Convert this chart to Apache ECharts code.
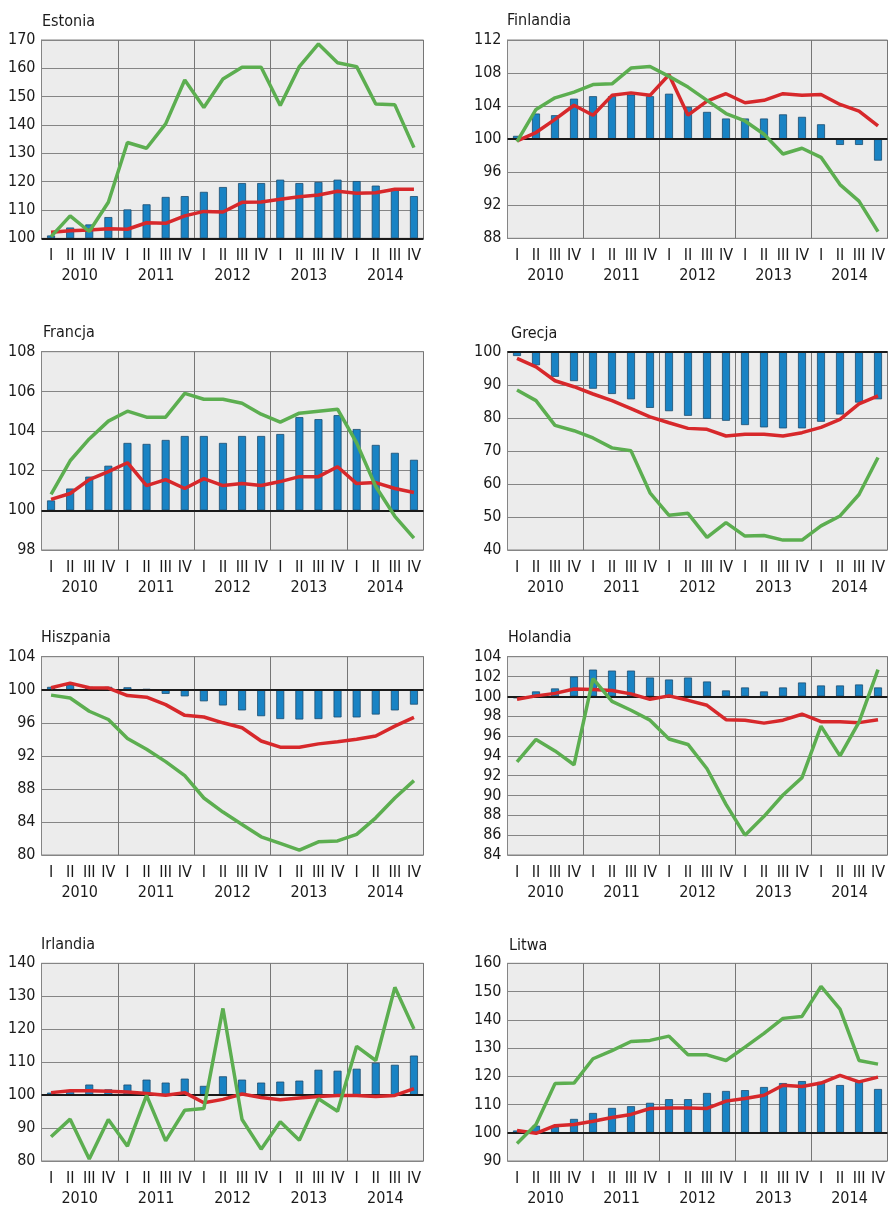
<!DOCTYPE html>
<html><head><meta charset="utf-8">
<script src="https://cdn.jsdelivr.net/npm/echarts@6/dist/echarts.min.js"></script>
<style>html,body{margin:0;padding:0;background:#fff}#c{width:888px;height:1207px}</style>
</head><body><div id="c"></div>
<script>
const quarters = ['I','II','III','IV','I','II','III','IV','I','II','III','IV','I','II','III','IV','I','II','III','IV'];
const years = ['2010','2011','2012','2013','2014'];
const countries = ['Estonia','Finlandia','Francja','Grecja','Hiszpania','Holandia','Irlandia','Litwa'];
const yMin = [100, 88, 98, 40, 80, 84, 80, 90];
const yMax = [170, 112, 108, 100, 104, 104, 140, 160];
const yStep = [10, 4, 2, 10, 4, 2, 10, 10];

const estoniaBars = [101,103.8,104.9,107.5,110.2,112,114.6,114.9,116.4,118.1,119.5,119.5,120.7,119.5,119.9,120.7,120.2,118.6,117.5,114.9];
const estoniaRed = [102.1,102.7,102.9,103.4,103.2,105.5,105.3,107.9,109.5,109.3,112.7,112.8,113.8,114.7,115.3,116.6,115.9,116.1,117.3,117.3];
const estoniaGreen = [100.6,107.9,102.4,112.7,133.8,131.8,140.4,155.9,146.2,156.2,160.4,160.4,146.9,160.6,168.6,162,160.6,147.4,147.1,132];

const finlandiaBars = [100.4,103.1,102.9,104.9,105.2,105.2,105.4,105.2,105.5,103.9,103.3,102.5,102.5,102.5,103,102.7,101.8,99.3,99.3,97.4];
const finlandiaRed = [99.8,100.8,102.4,104.1,102.9,105.3,105.6,105.3,107.8,102.9,104.6,105.5,104.4,104.7,105.5,105.3,105.4,104.2,103.4,101.6];
const finlandiaGreen = [99.7,103.6,105,105.7,106.6,106.7,108.6,108.8,107.6,106.3,104.7,103.1,102.2,100.6,98.2,98.9,97.8,94.5,92.5,88.8];

const francjaBars = [100.5,101.1,101.7,102.25,103.4,103.35,103.55,103.75,103.75,103.4,103.75,103.75,103.85,104.7,104.6,104.8,104.1,103.3,102.9,102.55];
const francjaRed = [100.55,100.85,101.55,101.95,102.4,101.25,101.55,101.1,101.6,101.25,101.35,101.25,101.45,101.7,101.7,102.2,101.35,101.4,101.1,100.9];
const francjaGreen = [100.8,102.5,103.6,104.5,105,104.7,104.7,105.9,105.6,105.6,105.4,104.85,104.45,104.9,105,105.1,103.4,101.2,99.7,98.6];

const grecjaBars = [98.7,95.9,92.4,91.1,88.8,87.2,85.6,83,82,80.6,79.7,79.1,77.8,77.1,76.8,76.8,78.8,81,84.6,85.6];
const grecjaRed = [98,95.4,91.2,89.4,87.2,85.2,82.8,80.3,78.5,76.8,76.5,74.5,75,75,74.5,75.5,77.1,79.5,84.2,86.6];
const grecjaGreen = [88.4,85.2,77.7,76.1,73.9,70.9,70,57.3,50.5,51.1,43.8,48.3,44.2,44.4,43,43,47.3,50.3,56.8,68];

const hiszpaniaBars = [100.35,100.6,100.35,100.35,100.3,100.1,99.5,99.2,98.6,98.1,97.5,96.8,96.45,96.4,96.45,96.65,96.65,97,97.5,98.2];
const hiszpaniaRed = [100.25,100.8,100.25,100.2,99.3,99.1,98.2,96.9,96.7,96,95.4,93.8,93.05,93.05,93.45,93.7,94,94.4,95.6,96.65];
const hiszpaniaGreen = [99.35,99,97.4,96.4,94.1,92.8,91.3,89.6,86.9,85.2,83.7,82.2,81.4,80.6,81.6,81.7,82.5,84.5,86.9,89];

const holandiaBars = [99.8,100.5,100.8,102,102.7,102.6,102.6,101.9,101.7,101.9,101.5,100.6,100.9,100.5,100.9,101.4,101.1,101.1,101.2,100.9];
const holandiaRed = [99.7,100.05,100.3,100.75,100.7,100.6,100.25,99.7,100.05,99.6,99.1,97.65,97.6,97.3,97.6,98.2,97.45,97.45,97.35,97.65];
const holandiaGreen = [93.4,95.65,94.5,93.1,101.8,99.5,98.6,97.6,95.7,95.15,92.7,89.1,86,87.9,90.05,91.8,97,94,97.4,102.7];

const irlandiaBars = [100.75,101.2,103.2,101.75,103.2,104.7,103.8,105,102.8,105.7,104.7,103.8,104.1,104.4,107.7,107.4,108,109.8,109.2,112];
const irlandiaRed = [100.75,101.35,101.35,101.15,100.95,100.45,99.95,100.75,97.7,98.7,100.35,99.25,98.6,99.1,99.6,99.9,99.9,99.6,99.9,101.95];
const irlandiaGreen = [87.35,92.7,80.6,92.6,84.5,99.9,86.1,95.4,95.9,126.3,92.6,83.6,91.9,86.3,98.9,95.1,114.8,110.5,132.7,120.1];

const litwaBars = [100.8,102.5,102.1,104.9,107,108.8,109.4,110.6,111.9,111.9,114.1,114.8,115.1,116.2,117.6,118.3,118,116.9,118,115.5];
const litwaRed = [100.8,99.8,102.5,102.9,104.1,105.4,106.5,108.6,108.8,108.8,108.6,111.2,112.1,113.3,116.8,116.4,117.6,120.3,118,119.7];
const litwaGreen = [96.2,102.9,117.4,117.6,126.2,129.1,132.3,132.7,134.2,127.6,127.6,125.6,130.3,135.2,140.5,141.2,151.8,143.8,125.6,124.3];

const baseline = 100;

const barsAll = [estoniaBars, finlandiaBars, francjaBars, grecjaBars, hiszpaniaBars, holandiaBars, irlandiaBars, litwaBars];
const redAll = [estoniaRed, finlandiaRed, francjaRed, grecjaRed, hiszpaniaRed, holandiaRed, irlandiaRed, litwaRed];
const greenAll = [estoniaGreen, finlandiaGreen, francjaGreen, grecjaGreen, hiszpaniaGreen, holandiaGreen, irlandiaGreen, litwaGreen];

// layout
const FONT = "'Liberation Sans Narrow','DejaVu Sans Condensed','Arial Narrow',sans-serif";
const colLeft = [41.5, 507.5];
const rowTop = [40, 351.7, 656.7, 963.3];
const rowH = [198.3, 198.3, 198.3, 199.4];
const plotW = 382;
const titlePos = [[42,14],[507,13],[43,325],[511,326],[41,630],[508,630],[41,937],[509,938]];

const option = {
  animation: false,
  backgroundColor: '#ffffff',
  title: [], grid: [], xAxis: [], yAxis: [], series: []
};

for (let p = 0; p < 8; p++) {
  const col = p % 2, row = Math.floor(p / 2);
  option.title.push({
    text: countries[p], left: titlePos[p][0], top: titlePos[p][1], padding: 0,
    textStyle: { fontFamily: FONT, fontSize: 16, fontWeight: 'normal', color: '#1a1a1a' }
  });
  option.grid.push({
    left: colLeft[col], top: rowTop[row], width: plotW, height: rowH[row],
    show: true, backgroundColor: '#ececec', borderColor: '#858585', borderWidth: 1, containLabel: false
  });
  option.xAxis.push({
    type: 'category', gridIndex: p, data: quarters, position: 'bottom', boundaryGap: true,
    axisLine: { show: false }, axisTick: { show: false }, splitLine: { show: false },
    axisLabel: { interval: 0, margin: 10, fontFamily: FONT, fontSize: 16, color: '#1a1a1a' }
  });
  option.xAxis.push({
    type: 'category', gridIndex: p, data: years, position: 'bottom', offset: 20, boundaryGap: true,
    axisLine: { show: false }, axisTick: { show: false },
    splitLine: { show: true, interval: 0, lineStyle: { color: '#767676', width: 1 } },
    axisLabel: { interval: 0, margin: 10, fontFamily: FONT, fontSize: 16, color: '#1a1a1a' }
  });
  option.yAxis.push({
    type: 'value', gridIndex: p, min: yMin[p], max: yMax[p], interval: yStep[p],
    axisLine: { show: true, lineStyle: { color: '#858585' } }, axisTick: { show: false },
    splitLine: { show: true, lineStyle: { color: '#858585', width: 1 } },
    axisLabel: { margin: 6, fontFamily: FONT, fontSize: 16, color: '#1a1a1a' }
  });
  const bars = barsAll[p];
  const lower = bars.map(v => Math.min(v, baseline));
  const height = bars.map(v => Math.abs(v - baseline));
  const xi = p * 2;
  option.series.push({
    type: 'bar', xAxisIndex: xi, yAxisIndex: p, stack: 's' + p, data: lower, barWidth: 8,
    itemStyle: { color: 'rgba(0,0,0,0)' }, silent: true, z: 2
  });
  option.series.push({
    type: 'bar', xAxisIndex: xi, yAxisIndex: p, stack: 's' + p, data: height, barWidth: 8,
    itemStyle: { color: '#1983c4', borderColor: '#1c4d70', borderWidth: 0.8 }, silent: true, z: 3,
    markLine: { silent: true, symbol: 'none', label: { show: false }, animation: false,
      lineStyle: { color: '#1a1a1a', width: 2, type: 'solid' }, data: [{ yAxis: baseline }] }
  });
  option.series.push({
    type: 'line', xAxisIndex: xi, yAxisIndex: p, data: redAll[p], symbol: 'none', z: 5,
    lineStyle: { color: '#d7282b', width: 3.5 }, silent: true
  });
  option.series.push({
    type: 'line', xAxisIndex: xi, yAxisIndex: p, data: greenAll[p], symbol: 'none', z: 6,
    lineStyle: { color: '#5cae50', width: 3.5 }, silent: true
  });
}

const chart = echarts.init(document.getElementById('c'), null, { renderer: 'canvas' });
chart.setOption(option);
</script></body></html>
